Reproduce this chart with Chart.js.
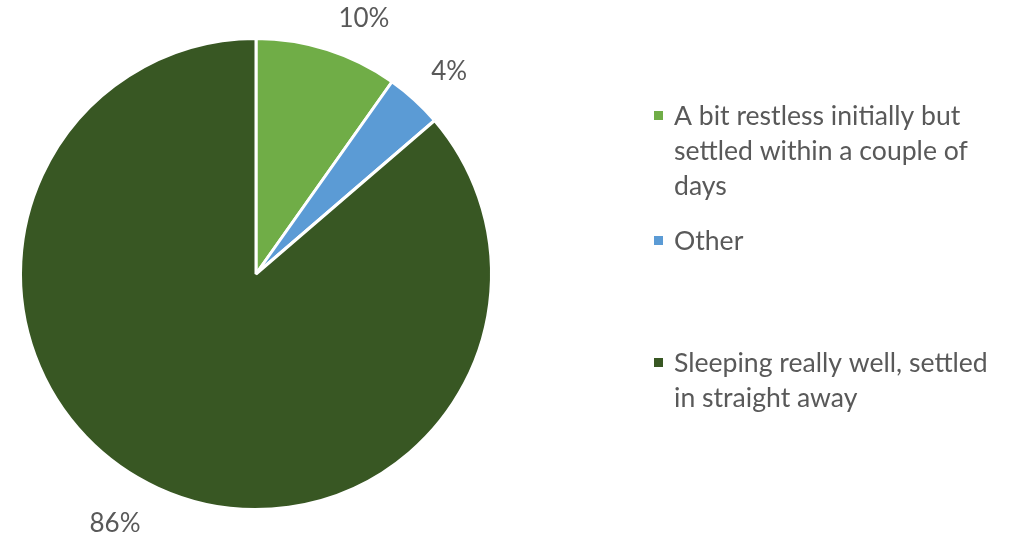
<!DOCTYPE html>
<html>
<head>
<meta charset="utf-8">
<script src="https://cdn.jsdelivr.net/npm/chart.js@4/dist/chart.umd.min.js"></script>
<style>
  html, body { margin: 0; padding: 0; background: #fff; }
  #wrap { width: 1023px; height: 534px; position: relative; }
</style>
</head>
<body>
<div id="wrap"><canvas id="grafico"></canvas></div>
<script>
// datos
const categorias = [
    ["A bit restless initially but", "settled within a couple of", "days"],
    ["Other"],
    ["Sleeping really well, settled", "in straight away"]
];
const valores = [9.8, 3.9, 86.3];
const etiquetas = ["10%", "4%", "86%"];
const colores = ["#70AD47", "#5B9BD5", "#385723"];

const fuente = "Lato, 'Open Sans', sans-serif";
const gris = "#595959";
// pequeño ajuste manual de las etiquetas (como en el original)
const ajusteEtiqueta = [[20, 6], [3, 1], [-20, 0]];

// etiquetas de porcentaje fuera del pastel
const etiquetasPlugin = {
    id: "etiquetasFuera",
    afterDatasetsDraw(chart) {
        const ctx = chart.ctx;
        const meta = chart.getDatasetMeta(0);
        ctx.save();
        ctx.font = "26px " + fuente;
        ctx.fillStyle = gris;
        ctx.textAlign = "center";
        ctx.textBaseline = "middle";
        meta.data.forEach((arc, i) => {
            const p = arc.getProps(["x", "y", "startAngle", "endAngle", "outerRadius"], true);
            const ang = (p.startAngle + p.endAngle) / 2;
            const r = p.outerRadius + 29;
            const w = ctx.measureText(etiquetas[i]).width;
            const x = p.x + Math.cos(ang) * r + Math.cos(ang) * w / 2 + ajusteEtiqueta[i][0];
            const y = p.y + Math.sin(ang) * r + Math.sin(ang) * 10 + ajusteEtiqueta[i][1];
            ctx.fillText(etiquetas[i], x, y);
        });
        ctx.restore();
    }
};

// leyenda a la derecha
const leyendaPlugin = {
    id: "leyendaDerecha",
    afterDraw(chart) {
        const ctx = chart.ctx;
        const x0 = 654;
        const tops = [116, 241, 363];
        const alto = 35;
        ctx.save();
        ctx.font = "26.6px " + fuente;
        ctx.textBaseline = "middle";
        categorias.forEach((lineas, i) => {
            ctx.fillStyle = colores[i];
            ctx.fillRect(x0, tops[i] - 5, 9, 9);
            ctx.fillStyle = gris;
            lineas.forEach((t, j) => {
                ctx.fillText(t, x0 + 20, tops[i] + j * alto);
            });
        });
        ctx.restore();
    }
};

window.onload = function () {
    new Chart(document.getElementById("grafico"), {
        type: "pie",
        data: {
            labels: categorias,
            datasets: [{
                data: valores,
                backgroundColor: colores,
                borderColor: "#ffffff",
                borderWidth: 3
            }]
        },
        options: {
            responsive: true,
            maintainAspectRatio: false,
            animation: false,
            layout: { padding: { left: 19, right: 530, top: 37, bottom: 23 } },
            plugins: {
                legend: { display: false },
                tooltip: { enabled: false }
            }
        },
        plugins: [etiquetasPlugin, leyendaPlugin]
    });
};
</script>
</body>
</html>
